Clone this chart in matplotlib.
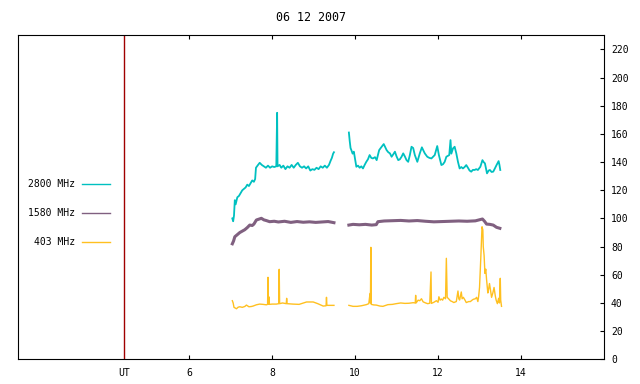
import matplotlib.pyplot as plt

# 2800 MHz flux, two segments (UT hours / value)
t2800_a = [7.04, 7.06, 7.08, 7.10, 7.12, 7.16, 7.20, 7.24, 7.28, 7.32, 7.36, 7.40, 7.44, 7.48,
           7.52, 7.56, 7.59, 7.61, 7.66, 7.70, 7.75, 7.80, 7.85, 7.90, 7.95, 8.00, 8.05, 8.10,
           8.12, 8.13, 8.18, 8.22, 8.27, 8.32, 8.37, 8.42, 8.47, 8.52, 8.57, 8.62, 8.67, 8.72,
           8.77, 8.82, 8.87, 8.92, 8.97, 9.02, 9.07, 9.12, 9.17, 9.22, 9.27, 9.32, 9.37, 9.41,
           9.44, 9.47, 9.49]
f2800_a = [100, 98, 102, 113, 110, 115, 116, 118, 120, 121, 122, 124, 123, 125,
           127, 126, 128, 136, 138, 139.5, 138, 137, 136, 137.5, 136, 137, 136.5, 137,
           175, 137, 138, 136, 137.5, 135, 137, 136, 138, 136, 138, 139.5, 137, 136,
           137, 135.5, 137, 134, 135, 134.5, 136, 135, 137, 136, 137.5, 136, 138, 141,
           143, 146, 147]
t2800_b = [9.85, 9.87, 9.89, 9.91, 9.94, 9.97, 10.00, 10.03, 10.07, 10.11, 10.15, 10.19, 10.23,
           10.27, 10.31, 10.35, 10.39, 10.43, 10.48, 10.52, 10.55, 10.58, 10.64, 10.69, 10.72,
           10.76, 10.80, 10.84, 10.88, 10.92, 10.96, 11.00, 11.04, 11.08, 11.12, 11.16, 11.20,
           11.24, 11.28, 11.32, 11.36, 11.40, 11.44, 11.50, 11.56, 11.61, 11.65, 11.68, 11.74,
           11.79, 11.84, 11.92, 11.98, 12.02, 12.08, 12.12, 12.16, 12.20, 12.27, 12.30, 12.32,
           12.36, 12.40, 12.44, 12.48, 12.52, 12.56, 12.60, 12.64, 12.68, 12.72, 12.76, 12.80,
           12.84, 12.88, 12.92, 12.96, 13.02, 13.07, 13.10, 13.13, 13.18, 13.22, 13.25, 13.29,
           13.33, 13.37, 13.41, 13.46, 13.48, 13.50]
f2800_b = [161, 155, 150, 148.5, 146, 147.4, 142, 136.7, 137.5, 136, 137, 135.5, 138,
           140.2, 142, 145, 143, 142.6, 143.5, 141.4, 145, 148.5, 150.9, 152.8, 151,
           148.5, 147, 146.2, 143.8, 145.5, 147.4, 144, 141.4, 142, 143.8, 146.2, 144,
           141.4, 140.2, 145, 150.9, 150, 145, 140.2, 146.2, 150.5, 148, 146.2, 143.8,
           143, 142.6, 145, 151.4, 145, 137.9, 138.5, 140.2, 143.8, 145, 155.6, 146,
           149.7, 150.9, 146.2, 140.2, 135.5, 136.5, 135.5, 136.5, 137.9, 136, 134, 133.2,
           134.5, 134.4, 135, 134.4, 136.7, 141.4, 140, 139.1, 132, 134, 134.4, 133,
           133.2, 135.5, 137.9, 140.7, 138, 134.4]

# 1580 MHz
t1580_a = [7.04, 7.07, 7.10, 7.16, 7.22, 7.28, 7.34, 7.40, 7.46, 7.52, 7.56, 7.62, 7.68, 7.74,
           7.80, 7.86, 7.94, 8.05, 8.15, 8.30, 8.45, 8.60, 8.75, 8.90, 9.05, 9.20, 9.35, 9.49]
f1580_a = [82, 84, 87, 88.5, 90, 91, 92, 93.5, 95.3, 95, 96, 98.9, 99.5, 100.1,
           99, 98.5, 97.7, 98, 97.5, 98, 97.2, 97.8, 97.3, 97.6, 97.2, 97.5, 97.8, 97]
t1580_b = [9.85, 9.95, 10.10, 10.25, 10.40, 10.51, 10.55, 10.70, 10.90, 11.10, 11.30, 11.50,
           11.70, 11.90, 12.10, 12.30, 12.50, 12.70, 12.90, 13.07, 13.12, 13.17, 13.25, 13.33,
           13.41, 13.49]
f1580_b = [95.3, 95.8, 95.5, 95.8, 95.3, 95.6, 97.7, 98.2, 98.4, 98.6, 98.2, 98.5,
           98.0, 97.6, 97.8, 98.0, 98.2, 98.0, 98.3, 99.6, 98, 96, 95.8, 95.3,
           93.7, 93]

# 403 MHz
t403_a = [7.04, 7.06, 7.08, 7.14, 7.18, 7.22, 7.28, 7.34, 7.38, 7.44, 7.50, 7.54, 7.62, 7.70,
          7.78, 7.86, 7.89, 7.90, 7.91, 7.92, 7.93, 8.00, 8.10, 8.16, 8.17, 8.18, 8.25, 8.34,
          8.35, 8.36, 8.50, 8.65, 8.83, 8.99, 9.10, 9.23, 9.30, 9.31, 9.32, 9.40, 9.49]
f403_a = [41.6, 40, 36.9, 35.9, 37, 37.3, 36.9, 37.5, 38.5, 37.3, 37.5, 37.8, 38.7, 39.2,
          39, 38.7, 39, 58.2, 39, 44.4, 39, 39.2, 39.2, 39.5, 63.9, 39.5, 40, 39.5,
          43.3, 39.5, 39.2, 39, 40.7, 40.7, 39.5, 37.8, 38, 44, 38.3, 38.3, 38.3]
t403_b = [9.85, 9.95, 10.05, 10.15, 10.27, 10.33, 10.36, 10.37, 10.38, 10.39, 10.45, 10.51,
          10.60, 10.67, 10.79, 10.90, 10.99, 11.10, 11.20, 11.30, 11.40, 11.45, 11.46, 11.47,
          11.52, 11.56, 11.60, 11.64, 11.70, 11.75, 11.80, 11.83, 11.84, 11.90, 11.96, 12.00,
          12.02, 12.05, 12.08, 12.11, 12.14, 12.18, 12.20, 12.22, 12.26, 12.30, 12.34, 12.38,
          12.44, 12.48, 12.50, 12.52, 12.56, 12.58, 12.61, 12.65, 12.68, 12.74, 12.78, 12.82,
          12.85, 12.90, 12.93, 12.96, 12.98, 13.00, 13.03, 13.06, 13.08, 13.09, 13.11, 13.13,
          13.15, 13.17, 13.20, 13.22, 13.24, 13.27, 13.29, 13.32, 13.35, 13.38, 13.40, 13.43,
          13.46, 13.48, 13.50, 13.51, 13.53]
f403_b = [38.3, 37.6, 37.6, 38, 38.8, 39.5, 46.8, 40, 79.5, 39, 38.6, 38.5,
          37.8, 37.6, 38.8, 39, 39.5, 40, 39.7, 39.8, 40.2, 40, 45.4, 40,
          42, 41.6, 43, 40.8, 40, 39.5, 39.8, 62, 39.7, 40.5, 41.6, 40.5,
          44.4, 42, 42.8, 42, 44, 43, 71.7, 44, 42.8, 41.5, 41, 40.3,
          41, 48.5, 43, 42.1, 47.8, 43, 44, 42, 40.3, 41, 41, 42,
          42.6, 43, 44, 41, 45, 51.1, 71.7, 94.1, 91.8, 80, 73.8, 61,
          64, 56.5, 47.1, 50, 53.8, 48, 44, 47, 51, 45, 42.1, 39.5,
          43.3, 40, 57.5, 42.1, 37.6]

ut_marker = 4.43
xticks = [6, 8, 10, 12, 14]
yticks = list(range(0, 221, 20))

c2800 = '#00c0c0'
c1580 = '#806080'
c403 = '#ffc020'

plt.rcParams['font.family'] = 'DejaVu Sans Mono'
plt.rcParams['font.size'] = 7

fig = plt.figure(figsize=(6.4, 3.84), dpi=100)
ax = fig.add_axes([0.0286, 0.0643, 0.9151, 0.8437])

ax.plot(t2800_a, f2800_a, color=c2800, lw=1.3, label='2800 MHz')
ax.plot(t2800_b, f2800_b, color=c2800, lw=1.3)
ax.plot(t1580_a, f1580_a, color=c1580, lw=2.2, label='1580 MHz')
ax.plot(t1580_b, f1580_b, color=c1580, lw=2.2)
ax.plot(t403_a, f403_a, color=c403, lw=1.0, label='403 MHz')
ax.plot(t403_b, f403_b, color=c403, lw=1.0)

ax.axvline(ut_marker, color='#a00000', lw=1)

ax.set_xlim(1.88, 16.0)
ax.set_ylim(0, 230)

ax.set_xticks(xticks)
ax.set_xticklabels([str(v) for v in xticks])
ax.tick_params(axis='x', direction='in', length=3, top=True, bottom=True, pad=6)
ax.yaxis.tick_right()
ax.set_yticks(yticks)
ax.tick_params(axis='y', direction='in', length=3, left=False, right=True, pad=5)
ax.text(ut_marker, -0.027, 'UT', transform=ax.get_xaxis_transform(),
        ha='center', va='top')

ax.set_title('06 12 2007', pad=10)

# gnuplot style key: label, then sample line
leg = ax.legend(loc='upper right', bbox_to_anchor=(110 / 640, 1 - 179 / 384),
                bbox_transform=fig.transFigure, frameon=False, markerfirst=False,
                handlelength=2.9, handletextpad=0.7, labelspacing=1.95,
                borderpad=0, borderaxespad=0)
for line in leg.get_lines():
    line.set_linewidth(1.0)

fig.savefig('out.png', dpi=100)
